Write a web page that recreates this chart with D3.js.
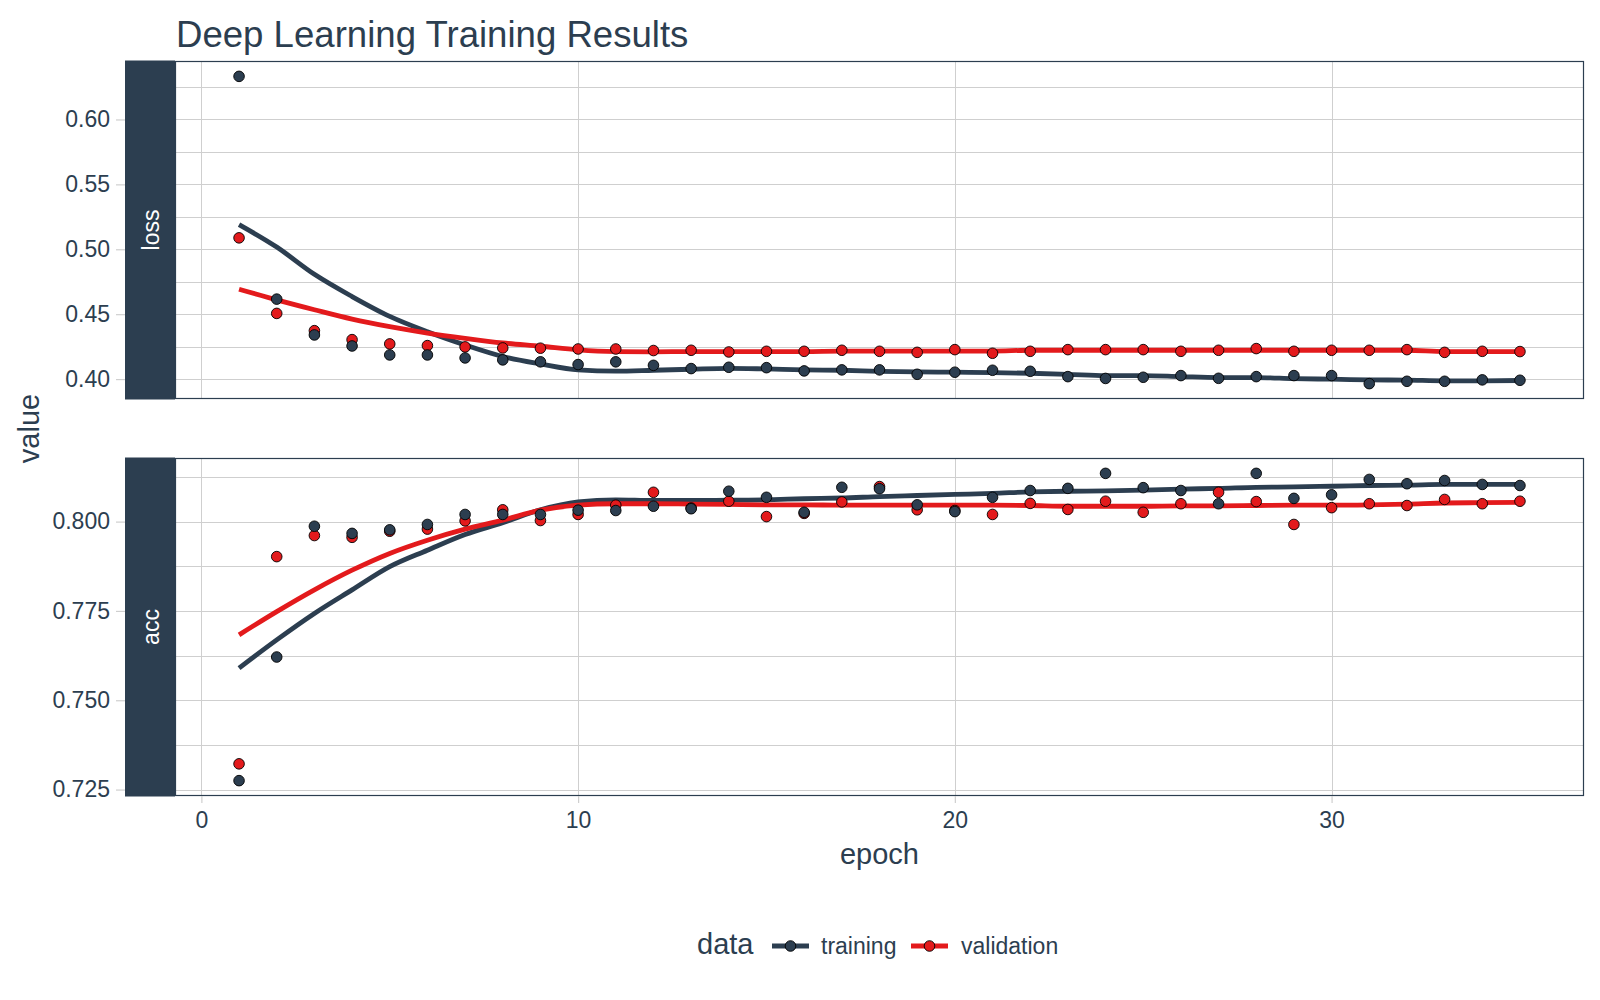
<!DOCTYPE html>
<html>
<head>
<meta charset="utf-8">
<script src="https://cdn.jsdelivr.net/npm/d3@7"></script>
<style>
  html, body { margin: 0; padding: 0; background: #ffffff; }
  svg { display: block; font-family: "Liberation Sans", Arial, sans-serif; }
</style>
</head>
<body>
<svg id="chart" width="1600" height="1000"></svg>
<script>
// ---------------- data ----------------
const epochs = [1,2,3,4,5,6,7,8,9,10,11,12,13,14,15,16,17,18,19,20,21,22,23,24,25,26,27,28,29,30,31,32,33,34,35];

const lossTraining = [0.6332,0.4616,0.4340,0.4255,0.4186,0.4186,0.4163,0.4148,0.4133,0.4112,0.4133,0.4106,
  0.4081,0.4091,0.4088,0.4063,0.4071,0.4071,0.4037,0.4053,0.4068,0.4060,0.4019,0.4005,
  0.4014,0.4027,0.4006,0.4019,0.4027,0.4027,0.3965,0.3983,0.3983,0.3994,0.3991];
const lossValidation = [0.5088,0.4506,0.4373,0.4304,0.4271,0.4258,0.4248,0.4240,0.4238,0.4232,0.4232,0.4220,
  0.4222,0.4209,0.4214,0.4214,0.4222,0.4214,0.4206,0.4227,0.4199,0.4214,0.4227,0.4227,
  0.4227,0.4214,0.4222,0.4235,0.4214,0.4222,0.4222,0.4227,0.4206,0.4214,0.4212];
const accTraining = [0.7275,0.7621,0.7987,0.7967,0.7977,0.7992,0.8020,0.8020,0.8020,0.8032,0.8031,0.8043,
  0.8036,0.8085,0.8068,0.8026,0.8096,0.8092,0.8047,0.8028,0.8068,0.8087,0.8093,0.8135,
  0.8095,0.8087,0.8050,0.8135,0.8065,0.8075,0.8118,0.8106,0.8115,0.8104,0.8101];
const accValidation = [0.7322,0.7902,0.7961,0.7956,0.7973,0.7979,0.8002,0.8033,0.8003,0.8020,0.8046,0.8082,
  0.8038,0.8057,0.8014,0.8023,0.8055,0.8098,0.8033,0.8031,0.8020,0.8051,0.8034,0.8057,
  0.8026,0.8050,0.8082,0.8056,0.7992,0.8039,0.8050,0.8045,0.8062,0.8050,0.8057];

// smoothed (loess) curves at each epoch
const lossTrainingSmooth = [0.5190,0.5017,0.4807,0.4636,0.4483,0.4365,0.4263,0.4174,0.4117,0.4071,0.4061,0.4068,
  0.4076,0.4083,0.4078,0.4071,0.4068,0.4060,0.4055,0.4053,0.4050,0.4045,0.4037,0.4027,
  0.4027,0.4019,0.4012,0.4012,0.4004,0.3999,0.3994,0.3992,0.3987,0.3987,0.3989];
const lossValidationSmooth = [0.4692,0.4610,0.4534,0.4462,0.4404,0.4355,0.4314,0.4278,0.4253,0.4225,0.4212,0.4210,
  0.4212,0.4212,0.4212,0.4212,0.4215,0.4215,0.4215,0.4216,0.4216,0.4222,0.4222,0.4222,
  0.4222,0.4222,0.4222,0.4222,0.4222,0.4222,0.4222,0.4222,0.4212,0.4212,0.4212];
const accTrainingSmooth = [0.7590,0.7669,0.7743,0.7809,0.7874,0.7920,0.7964,0.7997,0.8033,0.8055,0.8061,0.8059,
  0.8059,0.8060,0.8061,0.8064,0.8066,0.8070,0.8073,0.8076,0.8079,0.8083,0.8085,0.8086,
  0.8088,0.8091,0.8093,0.8096,0.8097,0.8099,0.8101,0.8102,0.8104,0.8104,0.8104];
const accValidationSmooth = [0.7683,0.7748,0.7809,0.7864,0.7911,0.7948,0.7979,0.8004,0.8032,0.8046,0.8050,0.8050,
  0.8049,0.8048,0.8047,0.8047,0.8046,0.8046,0.8046,0.8046,0.8046,0.8045,0.8043,0.8043,
  0.8043,0.8044,0.8044,0.8045,0.8046,0.8046,0.8047,0.8049,0.8052,0.8053,0.8054];

const seriesNames = ["training", "validation"];
const seriesColors = ["#2c3e50", "#e31a1c"];
const panelNames = ["loss", "acc"];

const lossTicks = [0.40, 0.45, 0.50, 0.55, 0.60];
const lossMinorTicks = [0.425, 0.475, 0.525, 0.575, 0.625];
const accTicks = [0.725, 0.750, 0.775, 0.800];
const accMinorTicks = [0.7375, 0.7625, 0.7875, 0.8125];
const epochTicks = [0, 10, 20, 30];

const titleText = "Deep Learning Training Results";
const xTitle = "epoch";
const yTitle = "value";
const legendTitle = "data";

// ---------------- layout ----------------
const svg = d3.select("#chart");
const dark = "#2c3e50";
const gridCol = "#cfcfcf";
const panelLeft = 175, panelRight = 1584;
const stripLeft = 125;
const panels = [
  { name: panelNames[0], top: 61, bottom: 399, ticks: lossTicks, minor: lossMinorTicks, fmt: d3.format(".2f"),
    series: [ {pts: lossTraining, smooth: lossTrainingSmooth}, {pts: lossValidation, smooth: lossValidationSmooth} ] },
  { name: panelNames[1], top: 458, bottom: 796, ticks: accTicks, minor: accMinorTicks, fmt: d3.format(".3f"),
    series: [ {pts: accTraining, smooth: accTrainingSmooth}, {pts: accValidation, smooth: accValidationSmooth} ] }
];

const xMin = d3.min(epochs), xMax = d3.max(epochs);
const xPad = (xMax - xMin) * 0.05;
const x = d3.scaleLinear().domain([xMin - xPad, xMax + xPad]).range([panelLeft, panelRight]);

panels.forEach(p => {
  const all = [].concat(p.series[0].pts, p.series[1].pts, p.series[0].smooth, p.series[1].smooth);
  const lo = d3.min(all), hi = d3.max(all), pad = (hi - lo) * 0.05;
  const y = d3.scaleLinear().domain([lo - pad, hi + pad]).range([p.bottom, p.top]);
  const g = svg.append("g");

  // gridlines
  g.selectAll(".minor").data(p.minor.filter(v => y(v) > p.top && y(v) < p.bottom)).join("line")
    .attr("x1", panelLeft).attr("x2", panelRight)
    .attr("y1", d => Math.round(y(d)) + 0.5).attr("y2", d => Math.round(y(d)) + 0.5)
    .attr("stroke", gridCol).attr("stroke-width", 1);
  g.selectAll(".major").data(p.ticks).join("line")
    .attr("x1", panelLeft).attr("x2", panelRight)
    .attr("y1", d => Math.round(y(d)) + 0.5).attr("y2", d => Math.round(y(d)) + 0.5)
    .attr("stroke", gridCol).attr("stroke-width", 1);
  g.selectAll(".vgrid").data(epochTicks).join("line")
    .attr("x1", d => Math.round(x(d)) + 0.5).attr("x2", d => Math.round(x(d)) + 0.5)
    .attr("y1", p.top).attr("y2", p.bottom)
    .attr("stroke", gridCol).attr("stroke-width", 1);

  // strip
  g.append("rect").attr("x", stripLeft).attr("y", p.top - 0.5)
    .attr("width", panelLeft - stripLeft).attr("height", p.bottom - p.top + 1).attr("fill", dark);
  g.append("text")
    .attr("transform", `translate(${(stripLeft + panelLeft) / 2 + 8.5},${(p.top + p.bottom) / 2}) rotate(-90)`)
    .attr("text-anchor", "middle").attr("fill", "#ffffff").attr("font-size", 23)
    .text(p.name);

  // y axis
  const yAxis = d3.axisLeft(y).tickValues(p.ticks).tickFormat(p.fmt).tickSize(9).tickPadding(6);
  const ya = g.append("g").attr("transform", `translate(${stripLeft},0)`).call(yAxis);
  ya.select(".domain").remove();
  ya.selectAll(".tick line").attr("stroke", gridCol).attr("stroke-width", 1.2);
  ya.selectAll(".tick text").attr("fill", dark).attr("font-size", 23)
    .attr("font-family", '"Liberation Sans", Arial, sans-serif');

  // clip
  const clipId = "clip-" + p.name;
  svg.append("clipPath").attr("id", clipId).append("rect")
    .attr("x", panelLeft).attr("y", p.top).attr("width", panelRight - panelLeft).attr("height", p.bottom - p.top);
  const plot = g.append("g").attr("clip-path", `url(#${clipId})`);

  // smooth lines (training then validation)
  const line = d3.line().x((d, i) => x(epochs[i])).y(d => y(d)).curve(d3.curveMonotoneX);
  p.series.forEach((s, k) => {
    plot.append("path").attr("d", line(s.smooth)).attr("fill", "none")
      .attr("stroke", seriesColors[k]).attr("stroke-width", 4.8).attr("stroke-linejoin", "round");
  });
  // points: validation first, training on top
  [1, 0].forEach(k => {
    plot.selectAll(".pt" + k).data(p.series[k].pts).join("circle")
      .attr("cx", (d, i) => x(epochs[i])).attr("cy", d => y(d)).attr("r", 5.3)
      .attr("fill", seriesColors[k]).attr("stroke", "#000000").attr("stroke-width", 0.9);
  });

  // border
  g.append("rect").attr("x", panelLeft + 0.5).attr("y", p.top + 0.5)
    .attr("width", panelRight - panelLeft - 1).attr("height", p.bottom - p.top - 1)
    .attr("fill", "none").attr("stroke", dark).attr("stroke-width", 1.2);

  p.y = y;
});

// x axis under bottom panel
const xAxis = d3.axisBottom(x).tickValues(epochTicks).tickFormat(d3.format("d")).tickSize(7).tickPadding(9);
const xa = svg.append("g").attr("transform", `translate(0,${panels[1].bottom})`).call(xAxis);
xa.select(".domain").remove();
xa.selectAll(".tick line").attr("stroke", gridCol).attr("stroke-width", 1.2);
xa.selectAll(".tick text").attr("fill", dark).attr("font-size", 23)
  .attr("font-family", '"Liberation Sans", Arial, sans-serif');

// titles
svg.append("text").attr("x", 176).attr("y", 47).attr("fill", dark).attr("font-size", 36.6).text(titleText);
svg.append("text").attr("x", (panelLeft + panelRight) / 2).attr("y", 864).attr("text-anchor", "middle")
  .attr("fill", dark).attr("font-size", 29).text(xTitle);
svg.append("text").attr("transform", `translate(39,${(panels[0].top + panels[1].bottom) / 2}) rotate(-90)`)
  .attr("text-anchor", "middle").attr("fill", dark).attr("font-size", 29).text(yTitle);

// legend
const lg = svg.append("g");
lg.append("text").attr("x", 697).attr("y", 954).attr("fill", dark).attr("font-size", 29).text(legendTitle);
const keyX = [772, 911];
const labX = [821, 961];
seriesNames.forEach((nm, k) => {
  lg.append("line").attr("x1", keyX[k]).attr("x2", keyX[k] + 37).attr("y1", 946).attr("y2", 946)
    .attr("stroke", seriesColors[k]).attr("stroke-width", 4.8);
  lg.append("circle").attr("cx", keyX[k] + 18.5).attr("cy", 946).attr("r", 5.3)
    .attr("fill", seriesColors[k]).attr("stroke", "#000").attr("stroke-width", 0.9);
  lg.append("text").attr("x", labX[k]).attr("y", 954).attr("fill", dark).attr("font-size", 23).text(nm);
});
</script>
</body>
</html>
